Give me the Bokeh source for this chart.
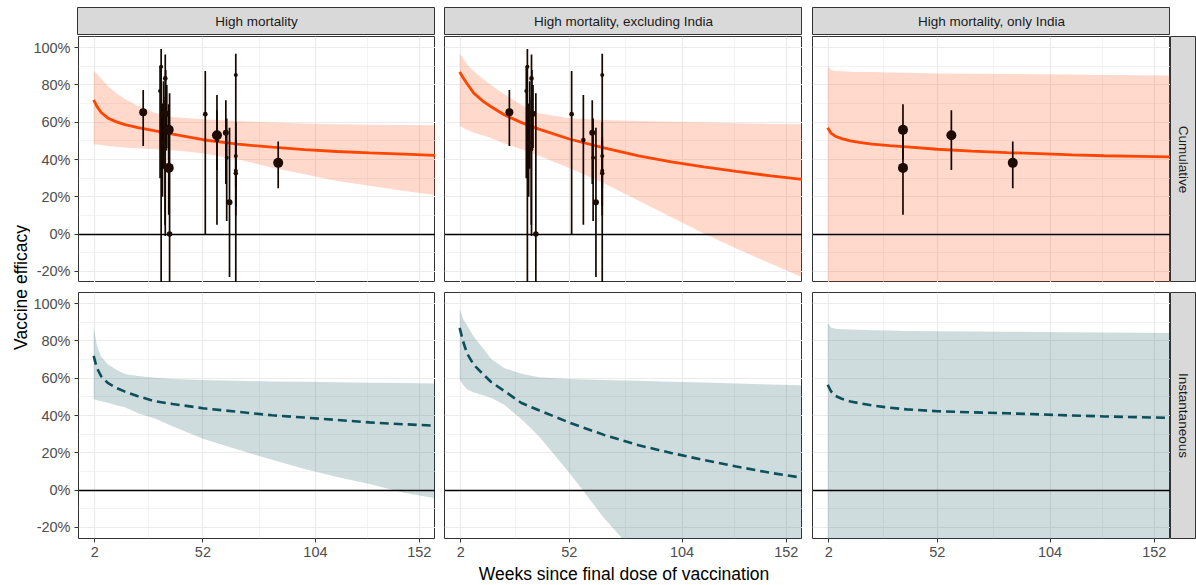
import math

from bokeh.core.properties import value
from bokeh.embed import file_html
from bokeh.layouts import column, row
from bokeh.models import (ColumnDataSource, FixedTicker, Grid, LinearInterpolator,
                          PrintfTickFormatter, Range1d)
from bokeh.plotting import figure
from bokeh.resources import INLINE

# ---------------------------------------------------------------- data
facet_cols = ["High mortality", "High mortality, excluding India", "High mortality, only India"]
facet_rows = ["Cumulative", "Instantaneous"]

x_ticks = [2, 52, 104, 152]
x_minor = [27, 78, 128]
y_ticks = [-20, 0, 20, 40, 60, 80, 100]
y_minor = [-10, 10, 30, 50, 70, 90]

# weeks at which the fitted curves are evaluated
weeks = [1.5, 3, 5, 8, 12, 16, 22, 30, 38, 52, 68, 84, 99, 114, 129, 145, 160]

# cumulative efficacy (%), all high-mortality trials
cum_all_est = [72, 68.5, 65.2, 62.3, 60.2, 58.7, 57.1, 55.3, 53.6, 50.6, 48.2, 46.6, 45.3, 44.3, 43.6, 42.9, 42.2]
cum_all_lo = [48.2, 48.1, 47.8, 47.3, 46.9, 46.5, 46.0, 45.5, 45.0, 43.3, 40.2, 35.6, 32.1, 28.5, 25.9, 23.1, 20.8]
cum_all_hi = [87.5, 86.0, 83.5, 79.5, 75.5, 72.5, 68.7, 65.0, 62.8, 61.6, 60.7, 59.8, 59.3, 58.9, 58.7, 58.5, 58.4]

# cumulative efficacy (%), excluding India
cum_exi_est = [87, 84, 80.5, 75.6, 71.5, 68.3, 64, 59.8, 56.3, 51, 46.2, 41.9, 38.7, 36.1, 33.6, 31.2, 29.2]
cum_exi_lo = [58, 57, 55.8, 54.3, 53, 51.5, 48.6, 45.5, 42, 35.5, 27.2, 17.8, 9, 0.3, -7.8, -16, -23.6]
cum_exi_hi = [96.7, 94.5, 91, 87.3, 83.5, 79.8, 75, 69.3, 64.8, 62.2, 61.2, 60.7, 60.2, 59.8, 59.4, 59.1, 58.9]

# cumulative efficacy (%), India only
cum_ind_est = [57, 54.2, 52.5, 51.2, 50, 49.2, 48.2, 47.4, 46.8, 45.5, 44.5, 43.7, 43.1, 42.5, 42, 41.7, 41.4]
cum_ind_lo = [-92, -90, -88, -87, -86, -85, -85, -84, -84, -83, -83, -82, -82, -82, -81, -81, -81]
cum_ind_hi = [90, 88, 87.5, 87.3, 87.1, 87, 86.9, 86.7, 86.5, 86.2, 86, 85.9, 85.7, 85.6, 85.4, 85.2, 85.1]

# instantaneous efficacy (%), all high-mortality trials
ins_all_est = [72, 65.5, 61, 57.5, 54.8, 52.8, 50.3, 47.6, 46.2, 43.9, 42, 40.1, 38.9, 37.6, 36.3, 35.3, 34.5]
ins_all_lo = [48.8, 48.2, 47.7, 46.8, 45.5, 44.4, 41.2, 38.2, 34.2, 27.5, 21.7, 16.2, 11.3, 7, 3.2, -1.4, -4.6]
ins_all_hi = [87.5, 77.5, 71.5, 67.5, 64.5, 62.3, 61.2, 60.3, 59.6, 59, 58.6, 58.3, 58.1, 57.8, 57.6, 57.4, 57.2]

# instantaneous efficacy (%), excluding India
ins_exi_est = [87, 80, 73, 67.2, 62.5, 58, 53.2, 46.7, 42.8, 36.2, 29.6, 24, 19.9, 16.1, 12.6, 9.2, 6.5]
ins_exi_lo = [59.5, 56.5, 54, 52.3, 51, 49.5, 45.8, 38, 28.8, 9.3, -15, -36, -55, -74, -93, -113, -132]
ins_exi_hi = [97, 92, 88.2, 82.3, 76.5, 70.3, 65.5, 62.4, 60.5, 59.6, 59, 58.6, 58.1, 57.7, 57.2, 56.7, 56.2]

# instantaneous efficacy (%), India only
ins_ind_est = [56.5, 53, 50.6, 49, 47.5, 46.6, 45.4, 44.2, 43.3, 42.3, 41.7, 41.2, 40.6, 40, 39.5, 39.1, 38.7]
ins_ind_lo = [-110, -108, -106, -105, -104, -103, -102, -101, -100, -99, -98, -98, -97, -97, -96, -96, -96]
ins_ind_hi = [89.7, 87.2, 86.6, 86.3, 86.1, 86, 85.8, 85.6, 85.4, 85.2, 85.1, 85, 84.8, 84.7, 84.5, 84.4, 84.2]

# trial estimates: follow-up week, efficacy and 95% interval (%), relative weight, India flag
pt_week = [24.4, 32.7, 32.2, 34.6, 34.8, 33.8, 35.3, 33.3, 34.5, 36.6, 53.1, 58.5, 62.6, 63.0, 64.3, 67.2, 67.2, 67.2, 67.2,
           36.2, 36.2, 58.5, 86.8]
pt_ve = [65.4, 89.8, 76.8, 83.5, 73.0, 64.5, 64.5, 49.0, 45.5, 0.0, 64.3, 50.5, 54.4, 41.0, 17.0, 85.3, 41.9, 33.9, 32.6,
         55.9, 35.5, 53.0, 38.2]
pt_lo = [47.3, -60, 30, -1, 45, 35, 46, 20, 5, -60, 0, 5, 26.8, 7, -23, -60, 25, 15, 10,
         40, 10.3, 34.3, 24.6]
pt_hi = [77.3, 99.3, 90, 96.4, 88, 82, 80, 70, 72, 75.5, 87.5, 74.6, 71.8, 62, 57, 96.7, 60, 50, 52,
         69.6, 55, 66.4, 49.6]
pt_weight = [2.75, 0.75, 0.75, 1.1, 0.25, 1.75, 1.75, 1.0, 0.75, 1.5, 1.1, 1.0, 1.75, 0.75, 1.75, 0.75, 0.75, 0.75, 1.0,
             3.75, 3.75, 3.75, 3.75]
pt_india = [False] * 19 + [True] * 4

# ---------------------------------------------------------------- styling / layout
FONT = "Liberation Sans"
ORANGE = "#FF4500"
TEAL = "#0D4F5A"
GRID = "#EBEBEB"
BORDER = "#333333"
STRIP_FILL = "#D9D9D9"

X_LIM = (-5.5, 159.5)
Y_LIM = (-26, 106)

FRAME_W, FRAME_H = 358, 246
YLAB_W = 30
LEFT_PAD = [47, 9, 10]        # space left of each column's panel
STRIP_TOP, STRIP_H = 7, 28
TOP_PAD = [1, 10]             # space above each row's panel
BOTTOM_PAD = [0, 26]          # space below each row's panel
RSTRIP_W = 25
XLAB_H = 21

curves = {
    (0, 0): (cum_all_est, cum_all_lo, cum_all_hi),
    (1, 0): (cum_exi_est, cum_exi_lo, cum_exi_hi),
    (2, 0): (cum_ind_est, cum_ind_lo, cum_ind_hi),
    (0, 1): (ins_all_est, ins_all_lo, ins_all_hi),
    (1, 1): (ins_exi_est, ins_exi_lo, ins_exi_hi),
    (2, 1): (ins_ind_est, ins_ind_lo, ins_ind_hi),
}


def blank_fig(width, height, xr, yr, left=0, right=0, top=0, bottom=0):
    f = figure(width=width, height=height, x_range=xr, y_range=yr,
               x_axis_location=None, y_axis_location=None, title=None,
               output_backend="svg", toolbar_location=None,
               min_border_left=left, min_border_right=right,
               min_border_top=top, min_border_bottom=bottom)
    f.center = [r for r in f.center if not isinstance(r, Grid)]
    f.background_fill_color = "white"
    f.border_fill_color = "white"
    f.outline_line_color = None
    return f


def strip(text, width, height, left, right, top, bottom, angle=0.0):
    s = blank_fig(width, height, Range1d(0, 1), Range1d(0, 1), left, right, top, bottom)
    s.background_fill_color = STRIP_FILL
    s.outline_line_color = BORDER
    s.outline_line_width = 1
    s.text(x=[0.5], y=[0.5], text=[text], angle=angle, text_align="center", text_baseline="middle",
           text_font=value(FONT), text_font_size="13.5px", text_color="#1A1A1A")
    return s


def style_axis(ax):
    ax.axis_line_color = None
    ax.major_tick_line_color = BORDER
    ax.major_tick_line_width = 1
    ax.major_tick_out = 4
    ax.major_tick_in = 0
    ax.minor_tick_line_color = None
    ax.major_label_text_font = FONT
    ax.major_label_text_font_size = "14.5px"
    ax.major_label_text_color = "#4D4D4D"
    ax.major_label_standoff = 4


def panel(ci, ri):
    left, top, bottom = LEFT_PAD[ci], TOP_PAD[ri], BOTTOM_PAD[ri]
    p = figure(width=left + FRAME_W, height=top + FRAME_H + bottom,
               x_range=Range1d(*X_LIM), y_range=Range1d(*Y_LIM),
               x_axis_location="below" if ri == 1 else None,
               y_axis_location="left" if ci == 0 else None,
               title=None, output_backend="svg", toolbar_location=None,
               min_border_left=left, min_border_right=0,
               min_border_top=top, min_border_bottom=bottom)
    p.center = [r for r in p.center if not isinstance(r, Grid)]
    p.background_fill_color = "white"
    p.border_fill_color = "white"
    p.outline_line_color = BORDER
    p.outline_line_width = 1

    for dim, ticks, minor in ((0, x_ticks, x_minor), (1, y_ticks, y_minor)):
        p.add_layout(Grid(dimension=dim, ticker=FixedTicker(ticks=ticks, minor_ticks=minor),
                          grid_line_color=GRID, grid_line_width=1.2,
                          minor_grid_line_color=GRID, minor_grid_line_width=0.6), "center")

    if ri == 1:
        p.xaxis.ticker = FixedTicker(ticks=x_ticks)
        style_axis(p.xaxis[0])
    if ci == 0:
        p.yaxis.ticker = FixedTicker(ticks=y_ticks)
        p.yaxis.formatter = PrintfTickFormatter(format="%d%%")
        style_axis(p.yaxis[0])

    est, lo, hi = curves[(ci, ri)]
    src = ColumnDataSource(dict(w=weeks, est=est, lo=lo, hi=hi))
    colour = ORANGE if ri == 0 else TEAL
    p.varea(x="w", y1="lo", y2="hi", source=src, fill_color=colour, fill_alpha=0.2)
    p.hspan(y=[0], line_color="black", line_width=1.4)
    if ri == 0:
        p.line(x="w", y="est", source=src, line_color=colour, line_width=2.8)
        keep = [i for i in range(len(pt_week))
                if ci == 0 or (ci == 1 and not pt_india[i]) or (ci == 2 and pt_india[i])]
        psrc = ColumnDataSource(dict(
            w=[pt_week[i] for i in keep], ve=[pt_ve[i] for i in keep],
            lo=[pt_lo[i] for i in keep], hi=[pt_hi[i] for i in keep],
            wt=[pt_weight[i] for i in keep]))
        p.segment(x0="w", y0="lo", x1="w", y1="hi", source=psrc, line_color="#140800", line_width=1.7)
        p.scatter(x="w", y="ve", source=psrc, fill_color="#1E0B02", line_color=None,
                  size={"field": "wt", "transform": LinearInterpolator(x=[0, 4], y=[2.5, 10.5])})
    else:
        p.line(x="w", y="est", source=src, line_color=colour, line_width=2.6, line_dash="9 5")
    return p


# ---------------------------------------------------------------- assemble
col_widths = [LEFT_PAD[c] + FRAME_W for c in range(3)]
strip_row = row([strip(facet_cols[c], col_widths[c], STRIP_TOP + STRIP_H, LEFT_PAD[c], 0, STRIP_TOP, 0)
                 for c in range(3)])

panel_rows = []
for ri in range(2):
    figs = [panel(ci, ri) for ci in range(3)]
    h = TOP_PAD[ri] + FRAME_H + BOTTOM_PAD[ri]
    figs.append(strip(facet_rows[ri], RSTRIP_W + 1, h, 0, 1, TOP_PAD[ri], BOTTOM_PAD[ri], angle=-math.pi / 2))
    panel_rows.append(row(figs))

right_w = sum(col_widths) + RSTRIP_W + 1
xlab = blank_fig(right_w, XLAB_H, Range1d(0, right_w), Range1d(XLAB_H, 0))
x_mid = (LEFT_PAD[0] + sum(col_widths)) / 2
xlab.text(x=[x_mid], y=[XLAB_H / 2 - 1.5], text=["Weeks since final dose of vaccination"],
          text_align="center", text_baseline="middle", text_font=value(FONT),
          text_font_size="17.5px", text_color="black")

total_h = STRIP_TOP + STRIP_H + sum(TOP_PAD) + 2 * FRAME_H + sum(BOTTOM_PAD) + XLAB_H
ylab = blank_fig(YLAB_W, total_h, Range1d(0, YLAB_W), Range1d(total_h, 0))
y_mid = STRIP_TOP + STRIP_H + TOP_PAD[0] + (FRAME_H * 2 + TOP_PAD[1]) / 2
ylab.text(x=[20], y=[y_mid], text=["Vaccine efficacy"], angle=math.pi / 2,
          text_align="center", text_baseline="middle", text_font=value(FONT),
          text_font_size="17.5px", text_color="black")

root = row([ylab, column([strip_row, panel_rows[0], panel_rows[1], xlab])])

open("out.html", "w").write(file_html(root, INLINE, title="Vaccine efficacy"))
